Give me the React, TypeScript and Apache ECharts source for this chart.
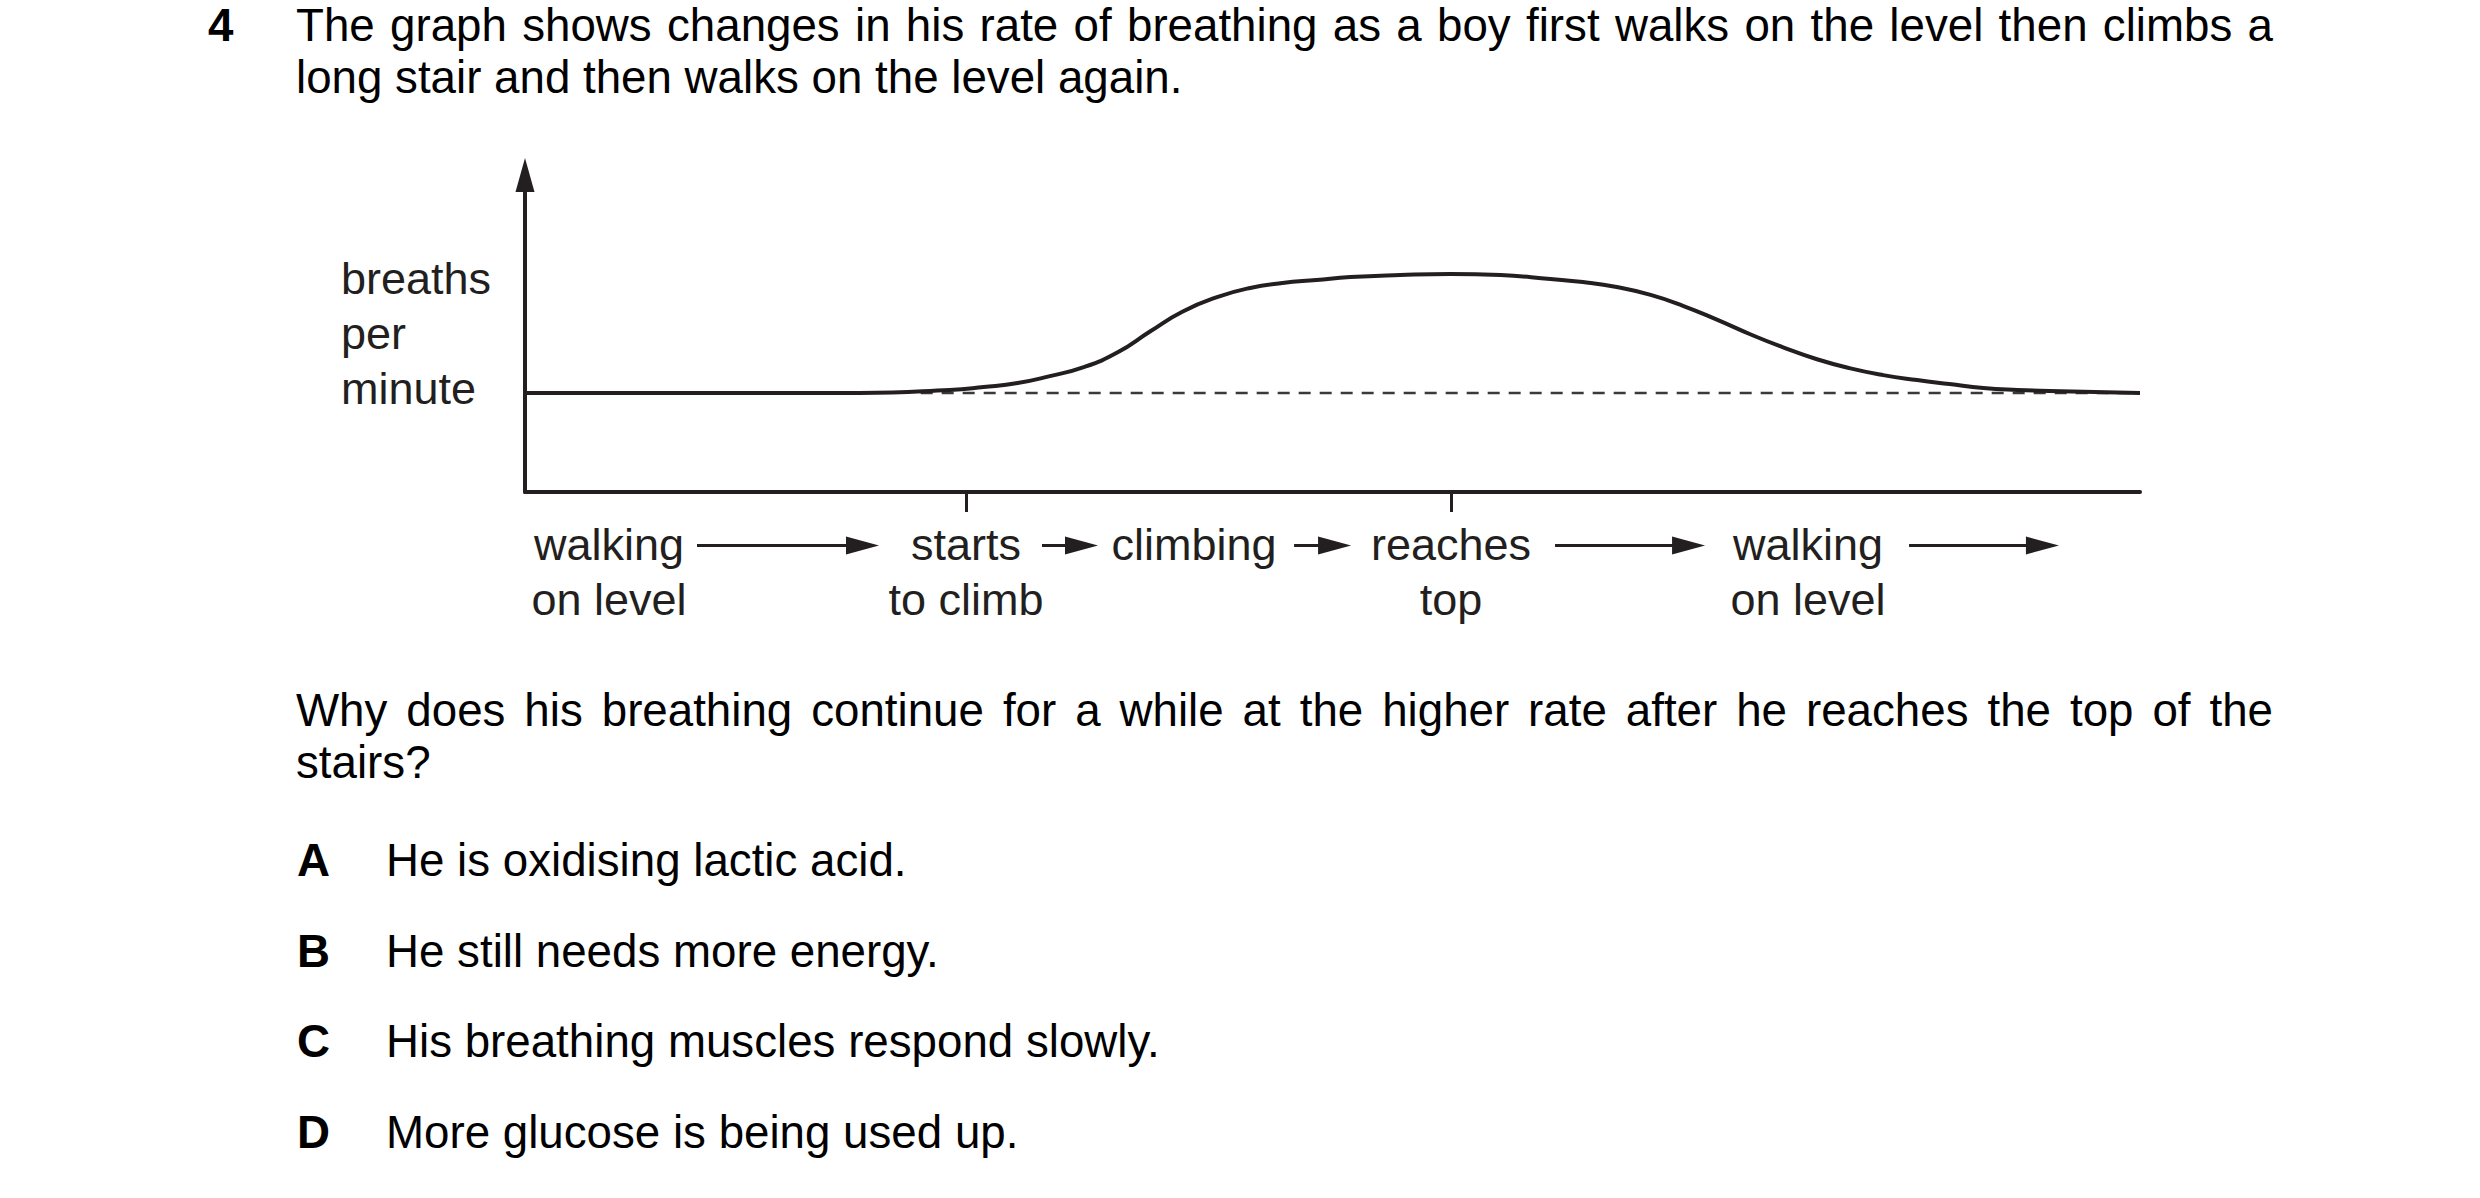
import { useEffect, useRef } from "react";
import * as echarts from "echarts";

// time along the walk (0 = start, 100 = end of the drawn axis)
const timePoints = [
  0, 20.7, 26.3, 28.4, 30.5, 32.5, 34.6, 36.7, 38.7, 40.7, 42.9, 44.9, 46.9,
  49.0, 51.1, 54.2, 57.3, 60.4, 63.5, 65.5, 67.6, 69.7, 71.7, 73.8, 75.9,
  77.9, 80.0, 82.0, 84.1, 86.2, 88.2, 90.3, 92.4, 94.4, 100,
];
// breaths per minute (arbitrary units, resting level = 10)
const breathRate = [
  10, 10, 10.3, 10.6, 11.0, 11.7, 12.6, 14.1, 16.2, 18.2, 19.7, 20.6, 21.1,
  21.4, 21.7, 21.9, 22.0, 21.9, 21.5, 21.2, 20.7, 19.9, 18.8, 17.4, 15.9,
  14.6, 13.4, 12.5, 11.8, 11.3, 10.9, 10.5, 10.3, 10.2, 10,
];
const restingRate = 10;
const restingFrom = 24.5;

const stageValues = [5.2, 27.31, 41.42, 57.34, 79.44];
const stageLabels = [
  "walking\non level",
  "starts\nto climb",
  "climbing",
  "reaches\ntop",
  "walking\non level",
];
const tickValues = [27.31, 57.34];

// arrows between stage labels: [from, to]
const arrowFrom = [10.65, 32.01, 47.62, 63.78, 85.7];
const arrowTo = [21.92, 35.48, 51.15, 73.07, 94.98];
const arrowLevel = -5.4;

const options = [
  ["A", "He is oxidising lactic acid."],
  ["B", "He still needs more energy."],
  ["C", "His breathing muscles respond slowly."],
  ["D", "More glucose is being used up."],
];

const ink = "#231f20";
const font = '"Liberation Sans", Arial, Helvetica, sans-serif';

function Chart() {
  const ref = useRef<HTMLDivElement>(null);

  useEffect(() => {
    if (!ref.current) return;
    const chart = echarts.init(ref.current, null, { renderer: "svg" });

    const findLabel = (v: number) => {
      const i = stageValues.findIndex((s) => Math.abs(s - v) < 0.01);
      return i >= 0 ? stageLabels[i] : "";
    };

    chart.setOption({
      animation: false,
      backgroundColor: "transparent",
      grid: {
        left: 525,
        right: 340,
        top: 175,
        bottom: 706,
        containLabel: false,
        outerBoundsMode: "none",
      },
      xAxis: {
        type: "value",
        min: 0,
        max: 100,
        axisLine: { show: true, lineStyle: { color: ink, width: 4 } },
        axisTick: {
          show: true,
          customValues: tickValues,
          length: 20,
          lineStyle: { color: ink, width: 3 },
        },
        axisLabel: {
          show: true,
          customValues: stageValues,
          formatter: (v: number) => findLabel(v),
          margin: 25,
          fontSize: 45,
          lineHeight: 55,
          fontFamily: font,
          color: ink,
        },
        splitLine: { show: false },
      },
      yAxis: {
        type: "value",
        min: 0,
        max: 32,
        name: "breaths\nper\nminute",
        nameLocation: "middle",
        nameRotate: 0,
        nameGap: 184,
        nameTextStyle: {
          align: "left",
          verticalAlign: "middle",
          fontSize: 45,
          lineHeight: 55,
          fontFamily: font,
          color: ink,
        },
        axisLine: {
          show: true,
          symbol: ["none", "triangle"],
          symbolSize: [19, 34],
          lineStyle: { color: ink, width: 4 },
        },
        axisTick: { show: false },
        axisLabel: { show: false },
        splitLine: { show: false },
      },
      series: [
        {
          name: "resting",
          type: "line",
          data: [
            [restingFrom, restingRate],
            [100, restingRate],
          ],
          symbol: "none",
          lineStyle: { color: "#3a3a3a", width: 2.5, type: [12, 9] },
          z: 1,
        },
        {
          name: "breathing",
          type: "line",
          data: timePoints.map((t, i) => [t, breathRate[i]]),
          smooth: 0.5,
          symbol: "none",
          lineStyle: { color: ink, width: 4 },
          z: 2,
        },
        {
          name: "arrows",
          type: "custom",
          clip: false,
          data: arrowFrom.map((f, i) => [f, arrowTo[i], arrowLevel]),
          encode: { x: [0, 1], y: 2 },
          renderItem: (_params: unknown, api: any) => {
            const s = api.coord([api.value(0), api.value(2)]);
            const e = api.coord([api.value(1), api.value(2)]);
            const headLen = 33;
            const headHalf = 9;
            return {
              type: "group",
              children: [
                {
                  type: "line",
                  shape: { x1: s[0], y1: s[1], x2: e[0] - headLen + 2, y2: e[1] },
                  style: { stroke: ink, lineWidth: 3 },
                },
                {
                  type: "polygon",
                  shape: {
                    points: [
                      [e[0], e[1]],
                      [e[0] - headLen, e[1] - headHalf],
                      [e[0] - headLen, e[1] + headHalf],
                    ],
                  },
                  style: { fill: ink },
                },
              ],
            };
          },
          z: 3,
        },
      ],
    });

    return () => chart.dispose();
  }, []);

  return (
    <div
      ref={ref}
      style={{ position: "absolute", left: 0, top: 0, width: 2480, height: 1198 }}
    />
  );
}

const textBase: React.CSSProperties = {
  position: "absolute",
  fontFamily: font,
  fontSize: 45.7,
  lineHeight: "52px",
  color: "#000",
  margin: 0,
  whiteSpace: "nowrap",
};

export default function App() {
  return (
    <div
      style={{
        position: "absolute",
        left: 0,
        top: 0,
        width: 2480,
        height: 1198,
        background: "#fff",
        overflow: "hidden",
      }}
    >
      <Chart />
      <div style={{ ...textBase, left: 208, top: 0, fontWeight: "bold" }}>4</div>
      <div style={{ ...textBase, left: 296, top: 0, width: 1977 }}>
        <div style={{ textAlign: "justify", textAlignLast: "justify" }}>
          The graph shows changes in his rate of breathing as a boy first walks on the
          level then climbs a
        </div>
        <div>long stair and then walks on the level again.</div>
      </div>
      <div style={{ ...textBase, left: 296, top: 685, width: 1977 }}>
        <div style={{ textAlign: "justify", textAlignLast: "justify" }}>
          Why does his breathing continue for a while at the higher rate after he
          reaches the top of the
        </div>
        <div>stairs?</div>
      </div>
      {options.map(([letter, text], i) => (
        <div key={letter}>
          <div
            style={{ ...textBase, left: 297, top: 835 + i * 90.7, fontWeight: "bold" }}
          >
            {letter}
          </div>
          <div style={{ ...textBase, left: 386, top: 835 + i * 90.7 }}>{text}</div>
        </div>
      ))}
    </div>
  );
}
